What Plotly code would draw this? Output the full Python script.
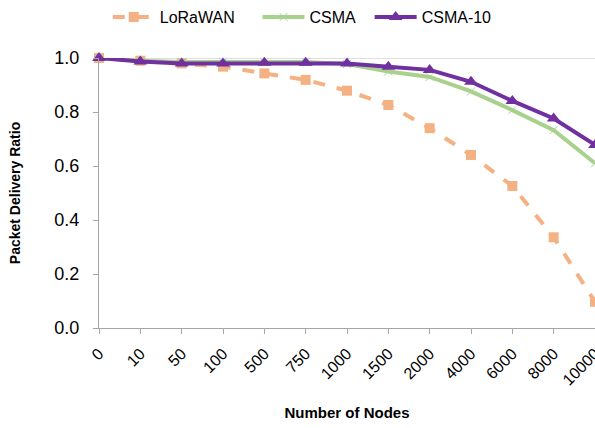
import plotly.graph_objects as go

categories = ["0", "10", "50", "100", "500", "750", "1000", "1500", "2000", "4000", "6000", "8000", "10000"]
lorawan = [1.0, 0.99, 0.98, 0.968, 0.943, 0.919, 0.879, 0.826, 0.740, 0.641, 0.526, 0.336, 0.097]
csma = [1.0, 0.99, 0.985, 0.985, 0.985, 0.985, 0.978, 0.950, 0.930, 0.876, 0.807, 0.733, 0.610]
csma10 = [1.0, 0.987, 0.98, 0.98, 0.982, 0.982, 0.98, 0.968, 0.956, 0.912, 0.841, 0.776, 0.678]

FONT = "Arial, Liberation Sans, sans-serif"
xs = list(range(len(categories)))

fig = go.Figure()
fig.add_trace(go.Scatter(
    x=xs, y=lorawan, name="LoRaWAN" + "\u00a0" * 4, mode="lines+markers", cliponaxis=False,
    line=dict(color="#F4B183", width=4, dash="dash"),
    marker=dict(symbol="square", size=10, color="#F4B183")))
fig.add_trace(go.Scatter(
    x=xs, y=csma, name="CSMA" + "\u00a0" * 2, mode="lines+markers", cliponaxis=False,
    line=dict(color="#A9D18E", width=4),
    marker=dict(symbol="x-thin", size=8, line=dict(color="#A9D18E", width=1))))
fig.add_trace(go.Scatter(
    x=xs, y=csma10, name="CSMA-10", mode="lines+markers", cliponaxis=False,
    line=dict(color="#7030A0", width=4),
    marker=dict(symbol="triangle-up", size=12, color="#7030A0")))

fig.add_shape(type="line", xref="paper", yref="y", x0=0, x1=1, y0=1.0, y1=1.0,
              line=dict(color="#BFBFBF", width=1), layer="below")

fig.update_layout(
    width=595, height=428,
    margin=dict(l=99, r=0, t=58, b=100, autoexpand=False),
    paper_bgcolor="white", plot_bgcolor="white",
    font=dict(family=FONT, color="black"),
    legend=dict(orientation="h", xref="container", yref="container",
                x=0.508, xanchor="center", y=0.96, yanchor="middle",
                font=dict(size=16, family=FONT), bgcolor="rgba(0,0,0,0)",
                tracegroupgap=0, itemwidth=42),
    xaxis=dict(
        tickmode="array", tickvals=xs, ticktext=categories, range=[0, 12],
        tickangle=-45, tickfont=dict(size=16, family=FONT), automargin=False,
        ticklabeloverflow="allow", ticklabelstandoff=4,
        showgrid=False, zeroline=False, showline=True, linecolor="#A6A6A6", linewidth=1.3,
        ticks="outside", ticklen=5, tickcolor="#A6A6A6",
        title=dict(text="<b>Number of Nodes</b>", font=dict(size=15, family=FONT), standoff=19)),
    yaxis=dict(
        range=[0, 1.0], tickvals=[0, 0.2, 0.4, 0.6, 0.8, 1.0],
        ticktext=["0.0", "0.2", "0.4", "0.6", "0.8", "1.0"],
        tickfont=dict(size=18, family=FONT), automargin=False, ticklabelstandoff=10,
        showgrid=False, zeroline=False, showline=True, linecolor="#A6A6A6", linewidth=1.3,
        ticks="outside", ticklen=5, tickcolor="#A6A6A6",
        title=dict(text="<b>Packet Delivery Ratio</b>", font=dict(size=14, family=FONT), standoff=30)),
)

fig.write_html("out.html", config={"displayModeBar": False},
               post_script="document.body.style.margin='0';document.body.style.overflow='hidden';")
